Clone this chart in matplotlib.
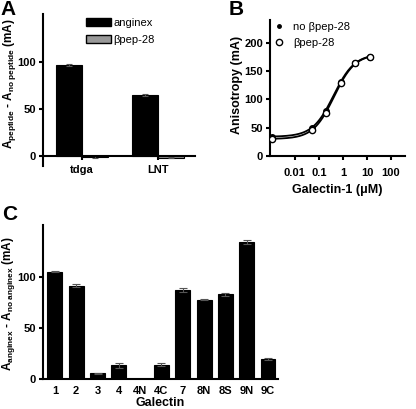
import numpy as np
import matplotlib
matplotlib.use('Agg')
import matplotlib.pyplot as plt
from matplotlib.patches import Patch
from matplotlib.lines import Line2D

plt.rcParams['font.family'] = ['Liberation Sans', 'DejaVu Sans']
plt.rcParams['font.weight'] = 'bold'
plt.rcParams['axes.labelweight'] = 'bold'
plt.rcParams['mathtext.fontset'] = 'custom'
plt.rcParams['mathtext.rm'] = 'Liberation Sans:bold'
plt.rcParams['mathtext.bf'] = 'Liberation Sans:bold'
plt.rcParams['mathtext.it'] = 'Liberation Sans:bold'

# panel A
a_groups = ['tdga', 'LNT']
a_anginex = [97, 65]
a_anginex_err = [1.0, 1.0]
a_bpep = [-1.5, -2.0]
a_bpep_err = [0.7, 1.0]

# panel B
b_conc = [0.00115, 0.05, 0.2, 0.8, 3.2, 12.8]
b_no_bpep = [33, 49, 80, 130, 164, 175]
b_bpep = [30, 46, 76, 129, 164, 174]
# dose-response fit parameters (bottom, top, EC50, hill)
b_fit_no = (34, 180, 0.41, 1.0)
b_fit_bpep = (30, 180, 0.43, 1.0)

# panel C
c_galectin = ['1', '2', '3', '4', '4N', '4C', '7', '8N', '8S', '9N', '9C']
c_values = [105, 91.5, 5.5, 13.5, 0, 14, 87.5, 77.5, 83, 134.5, 19.5]
c_err = [0.5, 1.2, 0.3, 2.5, 0, 1.5, 2.0, 0.5, 1.5, 2.0, 0.7]

W, H = 416, 409
fig = plt.figure(figsize=(W / 100, H / 100), dpi=100)
leg_font = {'size': 8, 'weight': 'normal'}


def px_axes(left, top, right, bottom):
    return fig.add_axes([left / W, 1 - bottom / H, (right - left) / W, (bottom - top) / H])


def style(ax):
    for s in ['top', 'right']:
        ax.spines[s].set_visible(False)
    for s in ['left', 'bottom']:
        ax.spines[s].set_linewidth(1.5)
    ax.tick_params(direction='out', width=1.5, length=3, labelsize=8, pad=2)
    for lbl in ax.get_xticklabels() + ax.get_yticklabels():
        lbl.set_fontweight('bold')


# ---- A ----
axA = px_axes(43, 14, 195, 166)
xa = np.arange(len(a_groups))
bw = 0.34
axA.bar(xa - bw / 2, a_anginex, bw, color='black', edgecolor='black', linewidth=0.8,
        yerr=a_anginex_err, error_kw=dict(ecolor='#555555', capsize=2, elinewidth=0.8, capthick=0.8))
axA.bar(xa + bw / 2, a_bpep, bw, color='#999999', edgecolor='black', linewidth=0.8,
        yerr=a_bpep_err, error_kw=dict(ecolor='#555555', capsize=2, elinewidth=0.8, capthick=0.8))
axA.set_xlim(-0.51, 1.49)
axA.set_ylim(-11, 151)
axA.spines['bottom'].set_position(('data', 0))
axA.set_xticks(xa)
axA.set_xticklabels(a_groups)
axA.set_yticks([0, 50, 100])
style(axA)
axA.tick_params(axis='x', pad=4)
axA.legend(handles=[Patch(facecolor='black', edgecolor='black', label='anginex'),
                    Patch(facecolor='#999999', edgecolor='black', label='βpep-28')],
           loc='upper left', bbox_to_anchor=(0.22, 1.04), frameon=False, prop=leg_font,
           handlelength=2.2, handleheight=0.7, handletextpad=0.25, labelspacing=0.65)
fig.text(10 / W, 1 - 84 / H, r'$\mathbf{A_{peptide}}$ - $\mathbf{A_{no\ peptide}}$ (mA)',
         rotation=90, ha='center', va='center', fontsize=8.5, fontweight='bold')

# ---- B ----
axB = px_axes(270, 20, 405, 156)
axB.set_xscale('log')
xs = np.logspace(np.log10(b_conc[0]), np.log10(b_conc[-1]), 200)
for (bot, top, ec50, hill) in [b_fit_no, b_fit_bpep]:
    axB.plot(xs, bot + (top - bot) * xs ** hill / (xs ** hill + ec50 ** hill),
             color='black', lw=1.3, zorder=2)
axB.plot(b_conc, b_no_bpep, 'o', color='black', ms=4, zorder=3)
axB.plot(b_conc, b_bpep, 'o', mfc='white', mec='black', mew=1.0, ms=4.5, zorder=4)
axB.set_xlim(10 ** -3.03, 10 ** 2.58)
axB.set_ylim(0, 240)
axB.set_xticks([0.01, 0.1, 1, 10, 100])
axB.set_xticklabels(['0.01', '0.1', '1', '10', '100'])
axB.xaxis.set_minor_locator(matplotlib.ticker.NullLocator())
axB.set_yticks([0, 50, 100, 150, 200])
style(axB)
axB.tick_params(axis='x', pad=6)
axB.set_xlabel('Galectin-1 (μM)', fontsize=9, labelpad=4, fontweight='bold')
axB.legend(handles=[Line2D([], [], ls='none', marker='o', color='black', ms=2.5, label='no βpep-28'),
                    Line2D([], [], ls='none', marker='o', mfc='white', mec='black', mew=1.0, ms=4.5,
                           label='βpep-28')],
           loc='upper left', bbox_to_anchor=(-0.06, 1.06), frameon=False, prop=leg_font,
           handlelength=1.2, handletextpad=0.7, labelspacing=0.55)
fig.text(237 / W, 1 - 85 / H, 'Anisotropy (mA)', rotation=90, ha='center', va='center',
         fontsize=9, fontweight='bold')

# ---- C ----
axC = px_axes(43, 225, 278, 379)
xc = np.arange(len(c_galectin))
axC.bar(xc, c_values, 0.7, color='black', edgecolor='black', linewidth=0.8,
        yerr=c_err, error_kw=dict(ecolor='#555555', capsize=3, elinewidth=0.8, capthick=0.8))
axC.set_xlim(-0.56, 10.47)
axC.set_ylim(0, 151)
axC.set_xticks(xc)
axC.set_xticklabels(c_galectin)
axC.set_yticks([0, 50, 100])
style(axC)
axC.tick_params(axis='x', length=0, pad=5)
axC.set_xlabel('Galectin', fontsize=9, labelpad=1, fontweight='bold')
fig.text(9 / W, 1 - 304 / H, r'$\mathbf{A_{anginex}}$ - $\mathbf{A_{no\ anginex}}$ (mA)',
         rotation=90, ha='center', va='center', fontsize=8.5, fontweight='bold')

# panel letters
fig.text(0 / W, 1 - 0 / H, 'A', fontsize=15, fontweight='bold', va='top')
fig.text(229 / W, 1 - 0 / H, 'B', fontsize=15, fontweight='bold', va='top')
fig.text(2 / W, 1 - 205 / H, 'C', fontsize=15, fontweight='bold', va='top')

fig.savefig('out.png', dpi=100)
